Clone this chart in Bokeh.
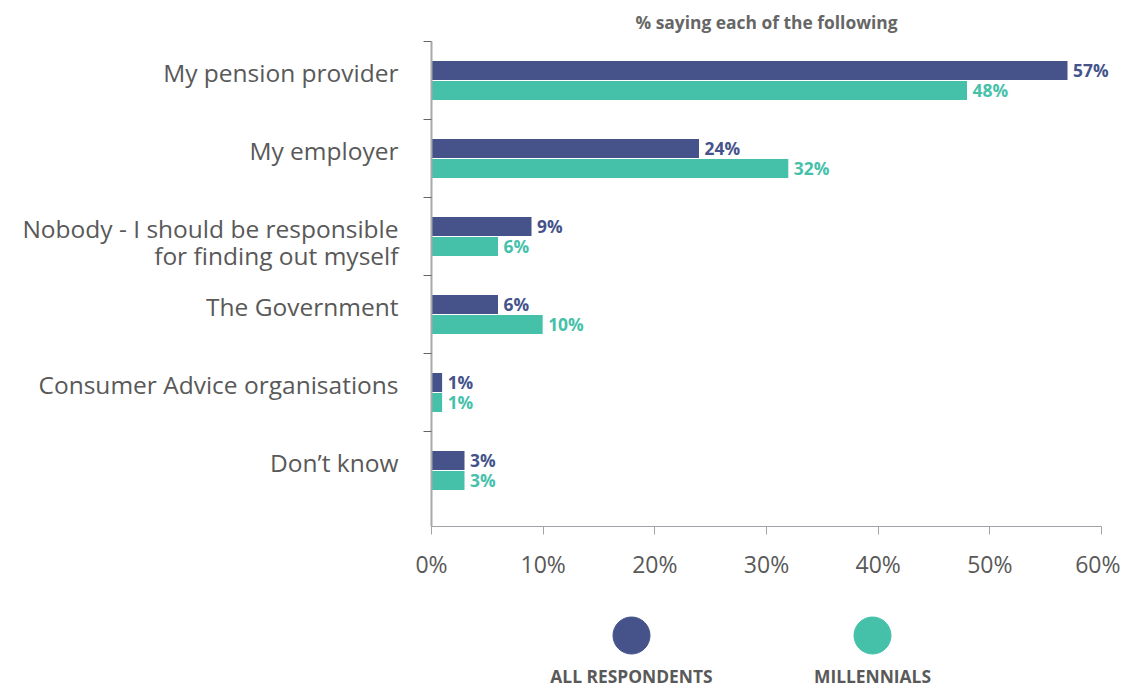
import numpy as np
from bokeh.plotting import figure
from bokeh.models import ColumnDataSource, Range1d, FixedTicker, LinearAxis
from bokeh.layouts import column
from bokeh.core.properties import value
from bokeh.embed import file_html
from bokeh.resources import INLINE

# ---------------- data ----------------
categories = [
    "My pension provider",
    "My employer",
    "Nobody - I should be responsible\nfor finding out myself",
    "The Government",
    "Consumer Advice organisations",
    "Don\u2019t know",
]
series_names = ["ALL RESPONDENTS", "MILLENNIALS"]
all_respondents = [57, 24, 9, 6, 1, 3]
millennials = [48, 32, 6, 10, 1, 3]
x_ticks = [0, 10, 20, 30, 40, 50, 60]
title_text = "% saying each of the following"

# ---------------- style ----------------
DARK = "#45538a"
TEAL = "#45c1aa"
colors = [DARK, TEAL]
FONT = "Open Sans"
TXT = "#595959"
BOLD_SIZE = "17.4px"

LEFT, AXIS_W, RIGHT = 431, 670, 0
FRAME_W = 689                    # extra room right of the 60% tick for data labels
TOP, FRAME_H, BOTTOM = 40, 485, 52
BAND_PX = 78.0
BAR_PX = 20.0

n = len(categories)
idx = np.arange(n)
bar_h = BAR_PX / BAND_PX
extra = (FRAME_H - n * BAND_PX) / BAND_PX
W = LEFT + FRAME_W + RIGHT
x_max = x_ticks[-1]
x_end = x_max * FRAME_W / AXIS_W

p = figure(
    width=W, height=TOP + FRAME_H + BOTTOM,
    frame_width=FRAME_W, frame_height=FRAME_H,
    min_border_left=LEFT, min_border_right=RIGHT,
    min_border_top=TOP, min_border_bottom=BOTTOM,
    x_range=Range1d(0, x_end),
    y_range=Range1d(n - 0.5 + extra, -0.5),
    output_backend="svg", toolbar_location=None,
    x_axis_location=None, y_axis_location=None,
)
p.outline_line_color = None
p.grid.visible = False

series_vals = [all_respondents, millennials]
for k, vals in enumerate(series_vals):
    ypos = idx + (k - 0.5) * bar_h
    src = ColumnDataSource(dict(y=ypos, x=vals, lab=[f"{v}%" for v in vals]))
    p.hbar(y="y", left=0, right="x", height=bar_h, source=src,
           fill_color=colors[k], line_color="white", line_width=1)
    p.text(x="x", y="y", text="lab", source=src, x_offset=5, y_offset=-1,
           text_baseline="middle", text_align="left",
           text_font=value(FONT), text_font_style="bold",
           text_font_size=BOLD_SIZE, text_color=colors[k])

# y axis: minor ticks at band boundaries, labels near band centres
n_lines = np.array([c.count("\n") + 1 for c in categories])
label_pos = [round(float(v), 3) for v in idx - 0.1 + (n_lines - 1) * 0.17]
yax = LinearAxis()
yax.ticker = FixedTicker(ticks=label_pos, minor_ticks=list(idx - 0.5))
yax.major_label_overrides = {lp: c for lp, c in zip(label_pos, categories)}
yax.major_tick_line_color = None
yax.major_tick_out = 0
yax.major_tick_in = 0
yax.minor_tick_out = 8
yax.minor_tick_in = 0
yax.minor_tick_line_color = "#666666"
yax.axis_line_color = "#a8a8a8"
yax.axis_line_width = 2
yax.major_label_standoff = 25
yax.major_label_text_font = FONT
yax.major_label_text_font_size = "24.5px"
yax.major_label_text_color = TXT
yax.major_label_text_line_height = 0.8
p.add_layout(yax, "left")

xax = LinearAxis(bounds=(0, x_max))
xax.ticker = FixedTicker(ticks=x_ticks, minor_ticks=[])
xax.major_label_overrides = {t: f"{t}%" for t in x_ticks}
xax.major_tick_out = 8
xax.major_tick_in = 0
xax.major_tick_line_color = "#a0a4a8"
xax.axis_line_color = "#a0a4a8"
xax.major_label_standoff = 13
xax.major_label_text_font = FONT
xax.major_label_text_font_size = "23px"
xax.major_label_text_color = TXT
p.add_layout(xax, "below")

p.title.text = title_text
p.title.align = "left"
p.title.offset = AXIS_W / 2 - 131
p.title.text_font = FONT
p.title.text_font_style = "bold"
p.title.text_font_size = BOLD_SIZE
p.title.text_color = "#666666"
p.title.text_line_height = 0.8
p.title.standoff = 15

# ---------------- legend figure ----------------
LEG_H = 106
LEG_CENTER = 751.5
LEG_GAP = 241
leg_x = [LEG_CENTER + (i - 0.5) * LEG_GAP for i in range(len(series_names))]
lg = figure(width=W, height=LEG_H, frame_width=FRAME_W, frame_height=LEG_H,
            min_border_left=LEFT, min_border_right=RIGHT,
            min_border_top=0, min_border_bottom=0,
            x_range=Range1d(LEFT, LEFT + FRAME_W), y_range=Range1d(LEG_H, 0),
            output_backend="svg", toolbar_location=None,
            x_axis_location=None, y_axis_location=None)
lg.outline_line_color = None
lg.grid.visible = False
lsrc = ColumnDataSource(dict(x=leg_x, y=[53] * 2, ty=[93] * 2,
                             c=colors, t=series_names))
lg.scatter(x="x", y="y", size=37, marker="circle", fill_color="c",
           line_color="c", source=lsrc)
lg.text(x="x", y="ty", text="t", source=lsrc, text_align="center",
        text_baseline="middle", text_font=value(FONT), text_font_style="bold",
        text_font_size=BOLD_SIZE, text_color=TXT)

layout = column(p, lg, spacing=0)
open("out.html", "w").write(file_html(layout, INLINE))
